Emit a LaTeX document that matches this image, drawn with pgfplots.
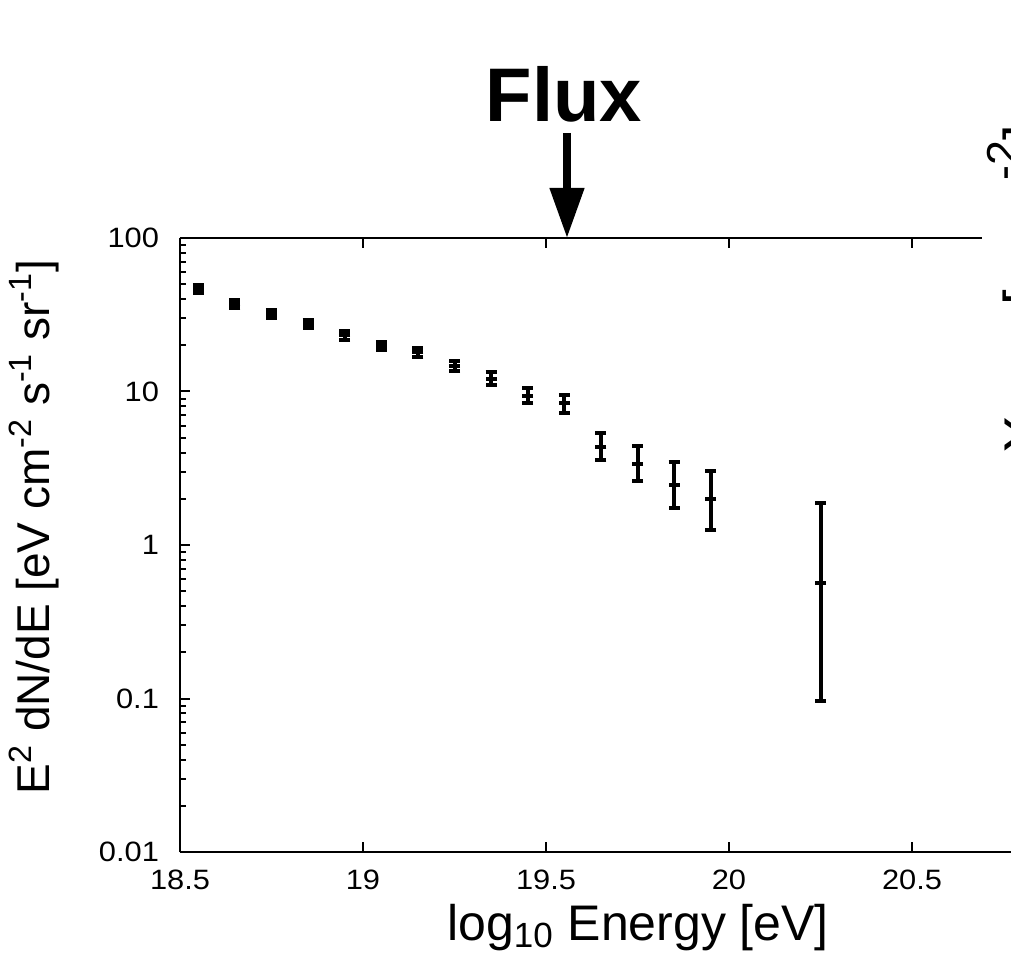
\documentclass[border=0pt]{standalone}
\usepackage{fontspec}
\setmainfont{Liberation Sans}
\newfontfamily\tickfont{Liberation Sans}[FakeStretch=1.1]
\usepackage{pgfplots}
\usepackage{pgfplotstable}
\pgfplotsset{compat=1.18}
\usetikzlibrary{arrows.meta}

\pgfplotstableread{
x     y      ep     em
18.55 46.5   2.9    2.9
18.65 37.2   2.3    2.3
18.75 32.0   2.0    2.0
18.85 27.5   1.7    1.7
18.95 23.2   1.45   1.45
19.05 19.8   1.2    1.2
19.15 18.0   1.1    1.1
19.25 14.7   1.1    1.1
19.35 12.1   1.2    1.1
19.45 9.39   1.1    1.0
19.55 8.38   1.1    1.1
19.65 4.37   0.97   0.79
19.75 3.37   1.05   0.76
19.85 2.46   1.03   0.71
19.95 1.99   1.06   0.74
20.25 0.563  1.31   0.467
}\fluxdata

\begin{document}
\begin{tikzpicture}
\begin{axis}[
  at={(0,0)}, anchor=south west,
  width=415.5pt, height=307pt, scale only axis,
  xmin=18.5, xmax=20.7705, ymin=0.01, ymax=100, ymode=log,
  axis line style={draw=none},
  xtick={18.5,19,19.5,20,20.5}, xticklabels={18.5,19,19.5,20,20.5},
  ytick={0.01,0.1,1,10,100}, yticklabels={0.01,0.1,1,10,100},
  xtick pos=both, ytick pos=left,
  tick align=inside,
  major tick length=5pt, minor tick length=3pt,
  tick style={black, line width=1pt},
  ticklabel style={font=\tickfont\fontsize{14}{16}\selectfont},
  xticklabel style={yshift=-5.3pt},
  yticklabel style={xshift=-7pt},
  clip=false,
]
\addplot[black, line width=2pt, only marks, mark=-, mark size=2.75pt,
  error bars/.cd, y dir=both, y explicit, error mark=-,
  error bar style={line width=2pt},
  error mark options={rotate=90, mark size=2.75pt, line width=2pt}]
  table[x=x, y=y, y error plus=ep, y error minus=em] {\fluxdata};
\draw[line width=1pt] (rel axis cs:0,0) -- (rel axis cs:1,0);
\draw[line width=1pt] (rel axis cs:0,0) -- (rel axis cs:0,1);
\draw[line width=1pt] (rel axis cs:0,1) -- (rel axis cs:0.9651,1);
\end{axis}
\node[rotate=90, anchor=base, font=\fontsize{23}{27}\selectfont] at (-65pt,162.5pt)
  {E\textsuperscript{2} dN/dE [eV cm\textsuperscript{-2} s\textsuperscript{-1} sr\textsuperscript{-1}]};
\node[anchor=base, font=\fontsize{25}{30}\selectfont] at (229pt,-44pt)
  {log\textsubscript{10} Energy [eV]};
\node[anchor=base, font=\fontsize{38}{44}\selectfont\bfseries] at (192pt,365pt) {Flux};
\draw[line width=3.8pt, -{Triangle[width=16.5pt,length=25pt]}] (193.5pt,359.5pt) -- (193.5pt,307pt);
\node[rotate=90, anchor=base west, inner sep=0pt, font=\fontsize{28}{32}\selectfont] at (431.8pt,199pt) {X\textsubscript{max}};
\node[rotate=90, anchor=base west, inner sep=0pt, font=\fontsize{28}{32}\selectfont] at (431.8pt,273pt)
  {[g cm\hspace{-6pt}\raisebox{12.8pt}{\fontsize{22.4}{24}\selectfont -2}]};
\pgfresetboundingbox
\path[use as bounding box] (-90pt,-51pt) rectangle (415.5pt,426pt);
\end{tikzpicture}
\end{document}
